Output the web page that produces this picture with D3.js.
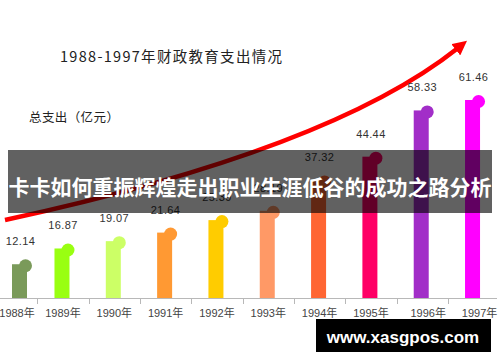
<!DOCTYPE html>
<html>
<head>
<meta charset="utf-8">
<script src="https://cdn.jsdelivr.net/npm/d3@7/dist/d3.min.js"></script>
<style>
  body { margin: 0; background: #fff; }
  svg { display: block; }
</style>
</head>
<body>
<div id="chart"></div>
<script>
var years = ["1988", "1989", "1990", "1991", "1992", "1993", "1994", "1995", "1996", "1997"];
var spending = [12.14, 16.87, 19.07, 21.64, 25.39, 28.19, 37.32, 44.44, 58.33, 61.46];
var barColors = ["#7a9a5a", "#99ff11", "#ccff66", "#ff9933", "#ffcc00",
                 "#ff9966", "#ff6633", "#ff0066", "#a22ec8", "#ff00ff"];

var width = 500,
    height = 362,
    baseY = 298;

var svg = d3.select("#chart").append("svg")
    .attr("width", width)
    .attr("height", height);

var x = d3.scaleBand()
    .domain(years)
    .range([-14, 499.2]);

var y = d3.scaleLinear()
    .domain([2, 61.46])
    .range([baseY, 100]);

var bw = 15;
function barCenter(d, i) {
  var c = x(d) + x.bandwidth() / 2 - 1;
  return i == 0 ? Math.max(c, 19.5) : c;
}

svg.append("defs").append("marker")
    .attr("id", "head")
    .attr("viewBox", "0 0 10 10")
    .attr("refX", 2)
    .attr("refY", 5)
    .attr("markerWidth", 3.2)
    .attr("markerHeight", 3.2)
    .attr("orient", "auto")
  .append("path")
    .attr("d", "M0,0L10,5L0,10z")
    .attr("fill", "#ff0000");

// titles
svg.append("text")
    .attr("x", 60)
    .attr("y", 62)
    .attr("font-family", "'Noto Sans CJK SC', sans-serif")
    .attr("font-size", 14.5)
    .attr("letter-spacing", 1.3)
    .attr("fill", "#222")
    .text("1988-1997年财政教育支出情况");

svg.append("text")
    .attr("x", 29)
    .attr("y", 122)
    .attr("font-family", "'Noto Sans CJK SC', sans-serif")
    .attr("font-size", 12.5)
    .attr("letter-spacing", 0.4)
    .attr("fill", "#222")
    .text("总支出（亿元）");

// trend arrow
var curve = d3.path();
curve.moveTo(5, 220);
curve.quadraticCurveTo(330, 150, 458, 48);
svg.append("path")
    .attr("d", curve.toString())
    .attr("fill", "none")
    .attr("stroke", "#ff0000")
    .attr("stroke-width", 4.5)
    .attr("marker-end", "url(#head)");

// axis line + ticks
svg.append("line")
    .attr("x1", 0).attr("x2", 497)
    .attr("y1", baseY + 0.5).attr("y2", baseY + 0.5)
    .attr("stroke", "#b8b8b8");

svg.selectAll(".tick")
    .data(years.slice(0, 9))
  .enter().append("line")
    .attr("class", "tick")
    .attr("x1", d => Math.round(x(d) + x.step()) + 0.5)
    .attr("x2", d => Math.round(x(d) + x.step()) + 0.5)
    .attr("y1", baseY)
    .attr("y2", baseY + 6)
    .attr("stroke", "#b8b8b8");

var g = svg.selectAll(".bar")
    .data(years)
  .enter().append("g")
    .attr("class", "bar");

g.append("rect")
    .attr("x", (d, i) => barCenter(d, i) - bw / 2)
    .attr("y", (d, i) => y(spending[i]))
    .attr("width", bw)
    .attr("height", (d, i) => baseY - y(spending[i]))
    .attr("fill", (d, i) => barColors[i]);

g.append("circle")
    .attr("cx", (d, i) => barCenter(d, i) + bw / 2 - 1.5)
    .attr("cy", (d, i) => y(spending[i]) + 1.5)
    .attr("r", 6.5)
    .attr("fill", (d, i) => barColors[i]);

g.append("text")
    .attr("x", (d, i) => barCenter(d, i) + 1)
    .attr("y", (d, i) => y(spending[i]) - 19)
    .attr("text-anchor", "middle")
    .attr("font-family", "'Liberation Sans', Arial, sans-serif")
    .attr("font-size", 11)
    .attr("letter-spacing", 0.4)
    .attr("fill", "#333")
    .text((d, i) => spending[i].toFixed(2));

g.append("text")
    .attr("x", (d, i) => Math.max(x(d) + x.bandwidth() / 2 + (i > 7 ? 6 : 0), 17))
    .attr("y", 317)
    .attr("text-anchor", "middle")
    .attr("font-family", "'Liberation Sans', 'Noto Sans CJK SC', sans-serif")
    .attr("font-size", 11)
    .attr("fill", "#444")
    .text(d => d + "年");

// banner over the chart
svg.append("rect")
    .attr("x", 8)
    .attr("y", 150)
    .attr("width", 484)
    .attr("height", 63)
    .attr("fill", "rgba(0,0,0,0.62)");

svg.append("text")
    .attr("x", 250)
    .attr("y", 195)
    .attr("text-anchor", "middle")
    .attr("font-family", "'Noto Sans CJK SC', sans-serif")
    .attr("font-weight", 700)
    .attr("font-size", 21)
    .attr("fill", "#fff")
    .text("卡卡如何重振辉煌走出职业生涯低谷的成功之路分析");

// watermark
svg.append("rect")
    .attr("x", 316)
    .attr("y", 319)
    .attr("width", 175)
    .attr("height", 33)
    .attr("fill", "#000");

svg.append("text")
    .attr("x", 403)
    .attr("y", 343)
    .attr("text-anchor", "middle")
    .attr("font-family", "'Liberation Sans', Arial, sans-serif")
    .attr("font-weight", 700)
    .attr("font-size", 17)
    .attr("fill", "#fff")
    .text("www.xasgpos.com");
</script>
</body>
</html>
